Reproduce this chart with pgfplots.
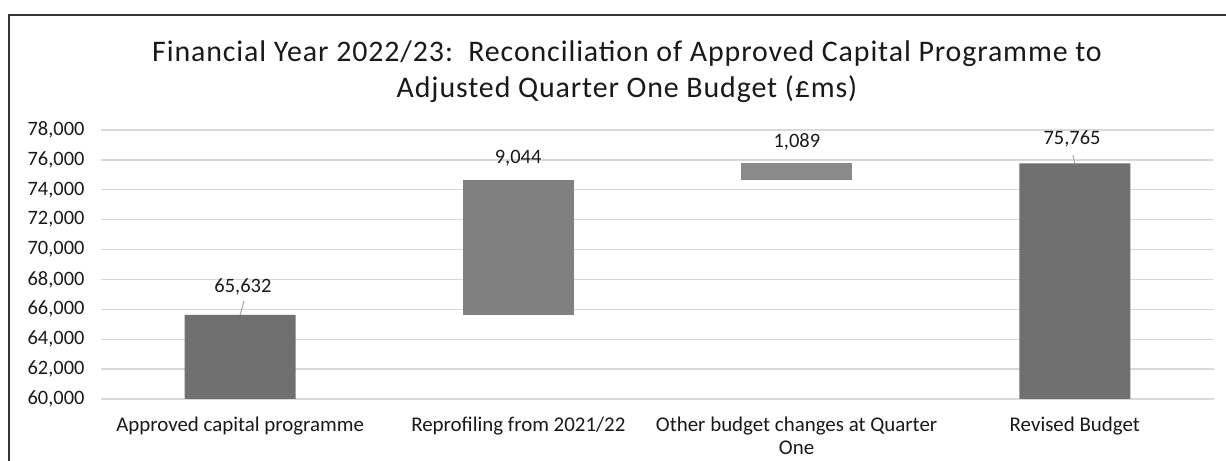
\documentclass[border=0pt]{standalone}
\usepackage{fontspec}
\setmainfont{Carlito}
\newfontfamily\titlefont[LetterSpace=3]{Carlito}
\usepackage{pgfplots}
\pgfplotsset{compat=1.18}
\definecolor{totalc}{RGB}{112,112,112}
\definecolor{incA}{RGB}{128,128,128}
\definecolor{incB}{RGB}{138,138,138}
\definecolor{gridc}{RGB}{217,217,217}
\definecolor{txt}{RGB}{25,25,25}
\definecolor{leader}{RGB}{166,166,166}
\begin{document}
\begin{tikzpicture}
\useasboundingbox (0,0) rectangle (1226bp,-461bp);
\draw[line width=2bp, color=black!80] (9bp,-461bp) -- (9bp,-15bp) -- (1226bp,-15bp);
\node[font=\titlefont\fontsize{30}{36}\selectfont, align=center, text=txt] at (627bp,-72bp)
  {Financial Year 2022/23:\ \ Reconciliation of Approved Capital Programme to\\Adjusted Quarter One Budget (£ms)};
\begin{axis}[
  at={(101bp,-399bp)}, anchor=south west,
  scale only axis, width=1113bp, height=269bp,
  ybar stacked, bar width=111bp,
  xmin=-0.5, xmax=3.5, ymin=60000, ymax=78000,
  ytick distance=2000,
  xtick={0,1,2,3},
  xticklabels={Approved capital programme, Reprofiling from 2021/22, {Other budget changes at Quarter\\One}, Revised Budget},
  ymajorgrids, grid style={gridc, line width=1.3bp},
  axis line style={draw=none}, major tick length=0,
  clip mode=individual,
  yticklabel style={/pgf/number format/.cd, fixed, 1000 sep={,}, assume math mode=true, /tikz/.cd,
     font=\fontsize{20.5}{24}\selectfont, text=txt, xshift=-13bp},
  xticklabel style={align=center, font=\fontsize{21}{24}\selectfont, text=txt, yshift=-14bp},
  scaled y ticks=false,
]
\addplot[fill=none, draw=none] coordinates {(0,0) (1,65632) (2,74676) (3,0)};
\addplot[fill=totalc, draw=none] coordinates {(0,65632) (1,0) (2,0) (3,75765)};
\addplot[fill=incA, draw=none] coordinates {(0,0) (1,9044) (2,0) (3,0)};
\addplot[fill=incB, draw=none] coordinates {(0,0) (1,0) (2,1089) (3,0)};
\draw[leader, line width=1bp] (axis cs:0.014,66558) -- (axis cs:0,65632);
\draw[leader, line width=1bp] (axis cs:2.993,76327) -- (axis cs:3.0,75765);
\node[font=\fontsize{20.5}{24}\selectfont, text=txt] at (axis cs:0.01,67495) {65,632};
\node[font=\fontsize{20.5}{24}\selectfont, text=txt] at (axis cs:0.999,76127) {9,044};
\node[font=\fontsize{20.5}{24}\selectfont, text=txt] at (axis cs:2.001,77197) {1,089};
\node[font=\fontsize{20.5}{24}\selectfont, text=txt] at (axis cs:2.99,77398) {75,765};
\end{axis}
\end{tikzpicture}
\end{document}
